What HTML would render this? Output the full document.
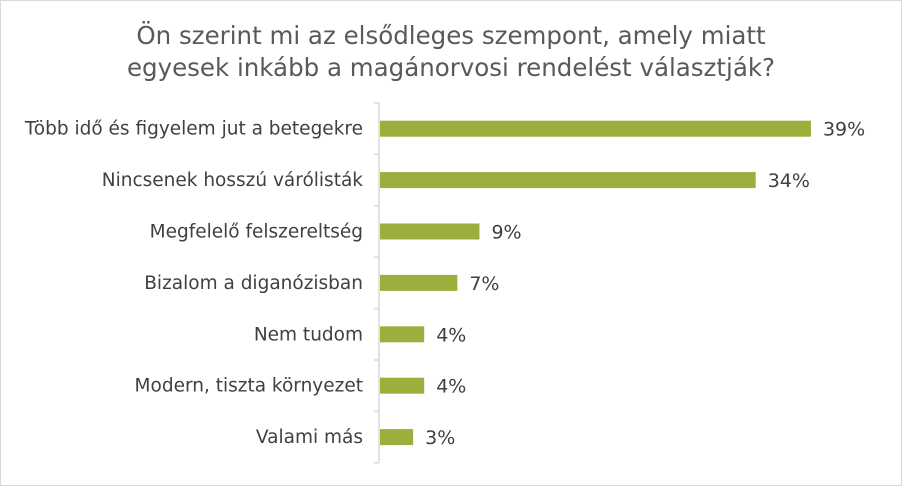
<!DOCTYPE html>
<html><head><meta charset="utf-8"><style>
html,body{margin:0;padding:0;background:#fff}
body{width:902px;height:486px;overflow:hidden;position:relative}
#frame{position:absolute;left:0;top:0;width:900px;height:484px;border:1px solid #d9d9d9}
svg{position:absolute;left:0;top:0}
text{font-family:"DejaVu Sans","Liberation Sans",sans-serif;fill:#404040}
</style></head><body>
<div id="frame"></div>
<svg id="chart" width="902" height="486">
<text x="451" y="44" text-anchor="middle" style="font-size:24.5px;fill:#595959">Ön szerint mi az elsődleges szempont, amely miatt</text>
<text x="451" y="76" text-anchor="middle" style="font-size:24.5px;fill:#595959">egyesek inkább a magánorvosi rendelést választják?</text>
</svg>
<script>
const categories=["Több idő és figyelem jut a betegekre","Nincsenek hosszú várólisták","Megfelelő felszereltség","Bizalom a diganózisban","Nem tudom","Modern, tiszta környezet","Valami más"];
const values=[39,34,9,7,4,4,3];
const labels=["39%","34%","9%","7%","4%","4%","3%"];
const svg=document.getElementById('chart');
const NS='http://www.w3.org/2000/svg';
const x0=380,pxPer=11.05,top0=103,band=51.4,barH=16;
function xs(v){return x0+v*pxPer;}
function bandY(i){return top0+i*band;}
function mk(t,a){const e=document.createElementNS(NS,t);for(const k in a)e.setAttribute(k,a[k]);svg.appendChild(e);return e;}
const ax=mk('line',{x1:379,y1:top0,x2:379,y2:bandY(categories.length),stroke:'#d9d9d9','stroke-width':1.5});


for(let i=0;i<=categories.length;i++){
 const t=mk('line',{x1:374,y1:bandY(i),x2:379,y2:bandY(i),stroke:'#d9d9d9','stroke-width':1.5});
 
 
}
categories.forEach((c,i)=>{
 const cy=bandY(i)+band/2;
 const r=mk('rect',{x:x0,y:cy-barH/2,width:xs(values[i])-x0,height:barH,fill:'#9dae3c'});
 
 
 const l=mk('text',{x:363,y:cy+6,'text-anchor':'end','font-size':'18.5'});
 l.textContent=c;
 
 
 const v=mk('text',{x:xs(values[i])+12,y:cy+7,'font-size':'19'});
 v.textContent=labels[i];
 
 
});
</script>
</body></html>
